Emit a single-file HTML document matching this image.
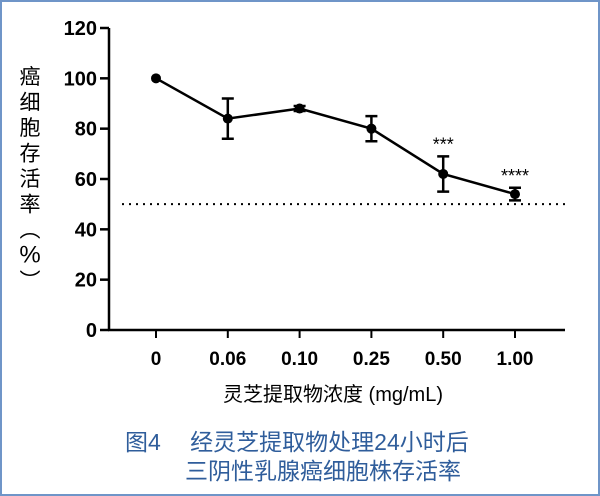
<!DOCTYPE html>
<html><head><meta charset="utf-8"><style>
body{margin:0;background:#fff}
#wrap{position:relative;width:596px;height:492px;border:2px solid #6f95c8;background:#fff;overflow:hidden}
svg text{font-family:"Liberation Sans","Noto Sans CJK SC",sans-serif}
</style></head><body>
<div id="wrap">
<svg id="chart" width="600" height="496" viewBox="0 0 600 496" style="position:absolute;left:-2px;top:-2px"></svg>
</div>
<script>
const categories=["0","0.06","0.10","0.25","0.50","1.00"];
const means=[100,84,88,80,62,54];
const errors=[0,8,1,5,7,2.5];
const stars=["","","","","***","****"];
const yTicks=[0,20,40,60,80,100,120];
const threshold=50;
const svg=document.getElementById('chart');
const NS='http://www.w3.org/2000/svg';
function el(t,a,p){const e=document.createElementNS(NS,t);for(const k in a)e.setAttribute(k,a[k]);(p||svg).appendChild(e);return e;}
const x0=156,dx=71.8,yBase=330,yTop=28;
const xs=i=>x0+i*dx;
const ys=v=>yBase-(v/120)*(yBase-yTop);
let a=el('line',{x1:109,y1:ys(0),x2:109,y2:ys(120),stroke:'#000','stroke-width':2.5});


a=el('line',{x1:108,y1:yBase,x2:565,y2:yBase,stroke:'#000','stroke-width':2.5});


yTicks.forEach(v=>{
 const t=el('line',{x1:100,x2:109,y1:ys(v),y2:ys(v),stroke:'#000','stroke-width':2.5});
 
 
 const l=el('text',{x:97,y:ys(v)+7,'text-anchor':'end','font-size':20,'font-weight':'bold'});
 l.textContent=v;
 
 
});
categories.forEach((c,i)=>{
 const t=el('line',{x1:xs(i),x2:xs(i),y1:yBase,y2:yBase+8,stroke:'#000','stroke-width':2});
 
 
 const l=el('text',{x:xs(i),y:365,'text-anchor':'middle','font-size':19,'font-weight':'bold'});
 l.textContent=c;
 
 
});
const th=el('line',{x1:122,x2:565,y1:ys(threshold),y2:ys(threshold),stroke:'#000','stroke-width':2,'stroke-dasharray':'2 5'});


const ln=el('polyline',{points:means.map((m,i)=>xs(i)+','+ys(m)).join(' '),fill:'none',stroke:'#000','stroke-width':2.5});


means.forEach((m,i)=>{
 const e=errors[i];
 if(e>0){
  const g=el('path',{d:`M${xs(i)},${ys(m+e)}V${ys(m-e)}M${xs(i)-6},${ys(m+e)}H${xs(i)+6}M${xs(i)-6},${ys(m-e)}H${xs(i)+6}`,stroke:'#000','stroke-width':2.5,fill:'none'});
  
  
 }
 const p=el('circle',{cx:xs(i),cy:ys(m),r:5,fill:'#000'});
 
 
 if(stars[i]){
  const s=el('text',{x:xs(i),y:ys(m+e)-6,'text-anchor':'middle','font-size':18});
  s.textContent=stars[i];
  
  
 }
});
const ytitle=['癌','细','胞','存','活','率','︵','%','︶'];
const yt=el('text',{'font-size':21,'text-anchor':'middle'});


ytitle.forEach((c,i)=>{const s=el('tspan',{x:30,y:84+i*25.5},yt);s.textContent=c;if(c==='%')s.setAttribute('font-size',24);});
const xt=el('text',{x:333,y:401,'text-anchor':'middle','font-size':20});
xt.textContent='灵芝提取物浓度 (mg/mL)';


const c1=el('text',{x:125,y:450,'font-size':23,fill:'#2f5d9b','font-family':'"Liberation Serif","Noto Serif CJK SC",serif'});
c1.textContent='图4\u3000 经灵芝提取物处理24小时后';


const c2=el('text',{x:185,y:479,'font-size':23,fill:'#2f5d9b','font-family':'"Liberation Serif","Noto Serif CJK SC",serif'});
c2.textContent='三阴性乳腺癌细胞株存活率';


</script>
</body></html>
